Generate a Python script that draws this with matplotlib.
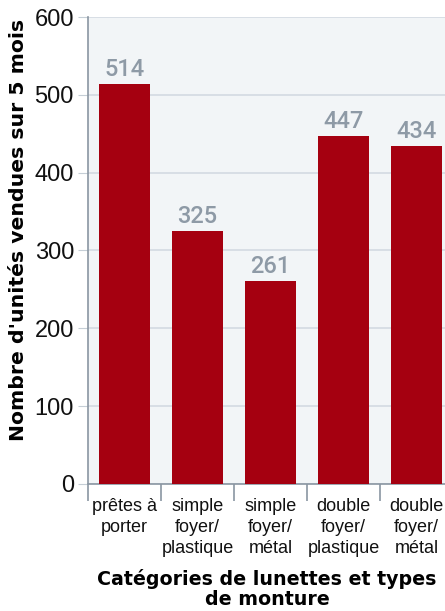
import matplotlib
matplotlib.use("Agg")
import matplotlib.pyplot as plt
from matplotlib.ticker import FixedLocator, NullFormatter

categories = ["prêtes à\nporter", "simple\nfoyer/\nplastique", "simple\nfoyer/\nmétal",
              "double\nfoyer/\nplastique", "double\nfoyer/\nmétal"]
values = [514, 325, 261, 447, 434]
yticks = [0, 100, 200, 300, 400, 500, 600]

plt.rcParams['font.family'] = ['Liberation Sans', 'DejaVu Sans']

fig = plt.figure(figsize=(4.45, 6.11), dpi=100)
ax = fig.add_axes([88/445, 1 - 484/611, 365/445, (484-17)/611])
ax.set_facecolor("#f2f5f7")

x = list(range(len(values)))
ax.bar(x, values, width=0.71, color="#a50010", zorder=3)
for xi, v in zip(x, values):
    ax.text(xi, v + 4, str(v), ha="center", va="bottom", fontsize=17,
            family=["Roboto", "DejaVu Sans"], fontweight="medium",
            color="#8e9aa6", zorder=4)

ax.set_xlim(-0.5, len(values) - 0.5)
ax.set_ylim(0, 600)
ax.set_yticks(yticks)
ax.tick_params(axis="y", labelsize=17, length=7.2, color="#c5ced6", pad=2.9,
               labelcolor="#111111")
ax.grid(axis="y", color="#d3dae2", linewidth=1.2, zorder=0)

ax.set_xticks(x)
ax.set_xticklabels(categories, fontsize=13, color="#111111", linespacing=1.3)
ax.tick_params(axis="x", length=0, pad=10)
ax.xaxis.set_minor_locator(FixedLocator([i - 0.5 for i in range(len(values))]))
ax.xaxis.set_minor_formatter(NullFormatter())
ax.tick_params(axis="x", which="minor", length=12, width=1.2, color="#8a96a2")

for s in ["top", "right"]:
    ax.spines[s].set_visible(False)
ax.spines["left"].set_color("#8a96a2")
ax.spines["left"].set_linewidth(1.2)
ax.spines["bottom"].set_color("#8a96a2")
ax.spines["bottom"].set_linewidth(1.2)

ax.set_ylabel("Nombre d'unités vendues sur 5 mois", fontsize=14.7, fontweight="heavy",
              family=["DejaVu Sans"], color="black")
ax.yaxis.set_label_coords(-0.165, 0.545)
fig.text(0.6, 0.003, "Catégories de lunettes et types\nde monture", ha="center",
         va="bottom", fontsize=13.7, fontweight="heavy", family=["DejaVu Sans"],
         linespacing=1.1)

fig.savefig("out.png", dpi=100)
